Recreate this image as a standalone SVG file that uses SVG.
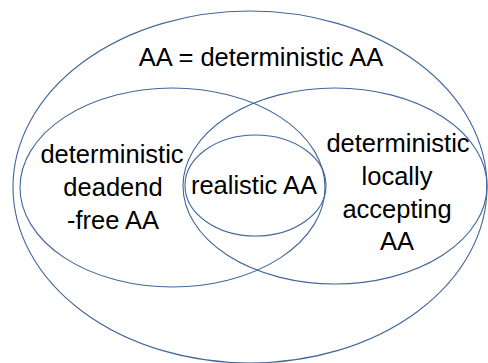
<svg xmlns="http://www.w3.org/2000/svg" width="488" height="363" viewBox="0 0 488 363">
<style>
.set{fill:none;stroke:#41669a;stroke-width:1.1}
.t{font-family:"Liberation Sans",Arial,sans-serif;font-size:25.5px;fill:#000;text-anchor:middle}
</style>
<rect width="488" height="363" fill="#fff"/>
<g id="outer"><ellipse class="set" cx="250" cy="187" rx="237" ry="176"/><text class="t" x="261" y="66">AA = deterministic AA</text></g>
<g id="deadend-free"><ellipse class="set" cx="172.5" cy="187.5" rx="152.5" ry="99.5"/><text class="t" x="112" y="163">deterministic</text><text class="t" x="113" y="196">deadend</text><text class="t" x="113" y="229">-free AA</text></g>
<g id="locally-accepting"><ellipse class="set" cx="335" cy="186" rx="152" ry="98"/><text class="t" x="398" y="152">deterministic</text><text class="t" x="397" y="185">locally</text><text class="t" x="397" y="218">accepting</text><text class="t" x="397" y="250">AA</text></g>
<g id="realistic"><ellipse class="set" cx="255.5" cy="185.5" rx="70.5" ry="50.5"/><text class="t" x="254" y="194">realistic AA</text></g>
<g id="connectors"/>
</svg>
